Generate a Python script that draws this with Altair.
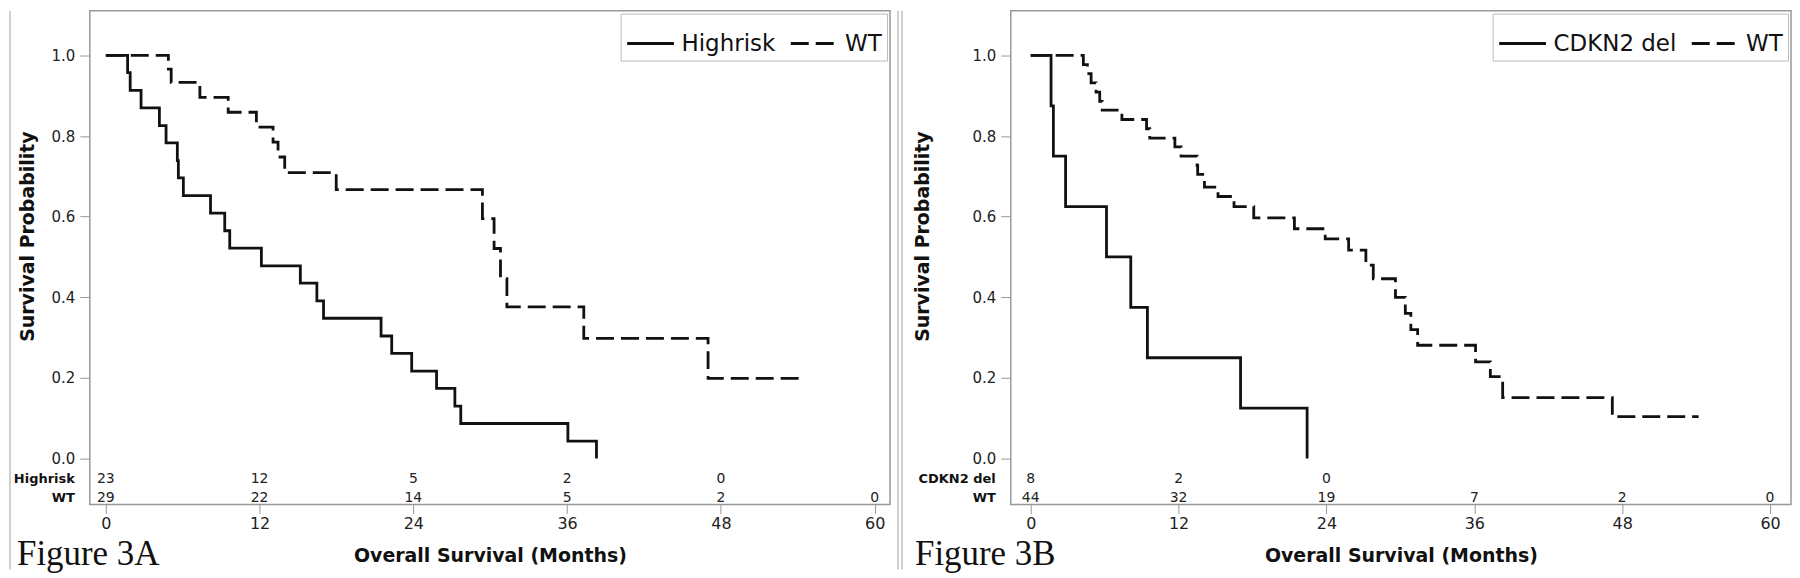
import altair as alt
import pandas as pd

FONT = "DejaVu Sans"
month_ticks = [0, 12, 24, 36, 48, 60]
prob_ticks = [0.0, 0.2, 0.4, 0.6, 0.8, 1.0]

# ---------------- Figure 3A ----------------
a_group = "Highrisk"
a_g_t = [0, 1.7, 1.9, 2.75, 4.18, 4.7, 5.58, 5.66, 6.05, 8.17, 9.28, 9.67, 12.14,
         15.18, 16.47, 16.99, 21.48, 22.31, 23.87, 25.81, 27.24, 27.7, 36.06, 38.29]
a_g_s = [1.0, 0.957, 0.913, 0.87, 0.826, 0.783, 0.739, 0.696, 0.652, 0.609, 0.565,
         0.522, 0.478, 0.435, 0.391, 0.348, 0.304, 0.261, 0.217, 0.174, 0.13, 0.087,
         0.043, 0.0]
a_w_t = [0, 4.88, 5.1, 7.34, 9.55, 11.75, 13.05, 13.44, 13.96, 17.98, 29.39, 30.3,
         30.8, 31.3, 37.3, 47.0, 54.55]
a_w_s = [1.0, 0.966, 0.933, 0.896, 0.859, 0.822, 0.785, 0.748, 0.709, 0.667, 0.595,
         0.521, 0.446, 0.376, 0.298, 0.199, 0.199]
a_risk_g = [23, 12, 5, 2, 0]
a_risk_w = [29, 22, 14, 5, 2, 0]

# ---------------- Figure 3B ----------------
b_group = "CDKN2 del"
b_g_t = [0, 1.65, 1.84, 2.83, 6.15, 8.12, 9.47, 17.03, 22.43]
b_g_s = [1.0, 0.875, 0.75, 0.625, 0.5, 0.375, 0.25, 0.125, 0.0]
b_w_t = [0, 4.27, 4.6, 4.9, 5.3, 5.6, 5.8, 7.4, 9.4, 9.66, 11.7, 12.2, 13.5, 13.55,
         14.1, 15.2, 16.5, 18.1, 21.4, 23.9, 25.8, 27.2, 27.8, 29.6, 30.4, 30.85,
         31.4, 36.1, 37.3, 38.3, 47.2, 54.2]
b_w_s = [1.0, 0.977, 0.955, 0.932, 0.909, 0.886, 0.864, 0.841, 0.818, 0.795, 0.773,
         0.75, 0.727, 0.705, 0.673, 0.65, 0.625, 0.597, 0.57, 0.545, 0.517, 0.48,
         0.446, 0.40, 0.36, 0.32, 0.281, 0.24, 0.203, 0.151, 0.104, 0.104]
b_risk_g = [8, 2, 0]
b_risk_w = [44, 32, 19, 7, 2, 0]

Y_DOMAIN = [-0.114, 1.111]
ROW1_Y = -0.05
ROW2_Y = -0.097


def one():
    return pd.DataFrame({"k": [0]})


def panel(group, g_t, g_s, w_t, w_s, risk_g, risk_w, width, xdom, title_x,
          fig_label, fig_x, left_rule_x, right_rule_x):
    curves = pd.DataFrame({
        "month": g_t + w_t,
        "surv": g_s + w_s,
        "group": [group] * len(g_t) + ["WT"] * len(w_t),
        "ord": list(range(len(g_t))) + list(range(len(w_t))),
    })
    risk = pd.DataFrame({
        "month": month_ticks[:len(risk_g)] + month_ticks[:len(risk_w)],
        "surv": [ROW1_Y] * len(risk_g) + [ROW2_Y] * len(risk_w),
        "n": [str(v) for v in risk_g] + [str(v) for v in risk_w],
    })
    rows = pd.DataFrame({"surv": [ROW1_Y, ROW2_Y], "lab": [group, "WT"]})

    x = alt.X("month:Q",
              scale=alt.Scale(domain=xdom, nice=False, zero=False),
              axis=alt.Axis(values=month_ticks, format="d", grid=False, domain=False,
                            tickSize=9, tickColor="#999", tickWidth=1,
                            labelFont=FONT, labelFontSize=16, labelColor="#222",
                            labelPadding=2,
                            title="Overall Survival (Months)", titleFont=FONT,
                            titleFontSize=19, titleFontWeight="bold", titleColor="#111",
                            titleY=57, titleBaseline="alphabetic"))
    y = alt.Y("surv:Q",
              scale=alt.Scale(domain=Y_DOMAIN, nice=False, zero=False),
              axis=alt.Axis(values=prob_ticks, format=".1f", grid=False, domain=False,
                            tickSize=10, tickColor="#999", tickWidth=1,
                            labelFont=FONT, labelFontSize=15, labelColor="#222",
                            labelPadding=5,
                            title="Survival Probability", titleFont=FONT,
                            titleFontSize=19, titleFontWeight="bold", titleColor="#111",
                            titleAngle=270, titleX=title_x, titleY=226,
                            titleBaseline="middle", titleAlign="center"))

    lines = alt.Chart(curves).mark_line(
        interpolate="step-after", color="#111", strokeWidth=2.8
    ).encode(
        x=x, y=y,
        strokeDash=alt.StrokeDash(
            "group:N",
            scale=alt.Scale(domain=[group, "WT"], range=[[1, 0], [18, 7]]),
            legend=alt.Legend(orient="top-right", direction="horizontal", title=None,
                              symbolType="stroke", symbolStrokeWidth=3,
                              symbolSize=2200, symbolStrokeColor="#111",
                              labelFont=FONT, labelFontSize=23, labelColor="#111",
                              labelOffset=6, columnPadding=8, padding=5, offset=3,
                              strokeColor="#bbb", fillColor="white", cornerRadius=0,
                              labelLimit=300),
        ),
        order="ord:Q",
    )

    risk_txt = alt.Chart(risk).mark_text(
        font=FONT, fontSize=14, color="#222", align="center", baseline="middle"
    ).encode(x=x, y=y, text="n:N")

    row_txt = alt.Chart(rows).mark_text(
        font=FONT, fontSize=13, fontWeight="bold", color="#111", align="right",
        baseline="middle"
    ).encode(x=alt.value(-15), y=y, text="lab:N")

    fig_txt = alt.Chart(one()).mark_text(
        font="Liberation Serif", fontSize=35, color="#111", align="left",
        baseline="alphabetic"
    ).encode(x=alt.value(fig_x), y=alt.value(556), text=alt.value(fig_label))

    layers = [lines, risk_txt, row_txt, fig_txt]
    if left_rule_x is not None:
        layers.insert(0, alt.Chart(one()).mark_rule(color="#cfcfcf", strokeWidth=2).encode(
            x=alt.value(left_rule_x), y=alt.value(0), y2=alt.value(560)))
    if right_rule_x is not None:
        layers.insert(0, alt.Chart(one()).mark_rule(color="#cfcfcf", strokeWidth=2).encode(
            x=alt.value(right_rule_x), y=alt.value(0), y2=alt.value(560)))

    return alt.layer(*layers).properties(width=width, height=495)


pA = panel(a_group, a_g_t, a_g_s, a_w_t, a_w_s, a_risk_g, a_risk_w,
           802, [-1.25, 61.2], -62, "Figure 3A", -73, -80, 810)
pB = panel(b_group, b_g_t, b_g_s, b_w_t, b_w_s, b_risk_g, b_risk_w,
           782, [-1.62, 61.7], -88, "Figure 3B", -96, -109, None)

chart = alt.hconcat(pA, pB, spacing=0).resolve_scale(
    strokeDash="independent", x="independent", y="independent"
).properties(
    padding={"left": 0, "top": 0, "right": 0, "bottom": 0},
    background="white",
).configure_view(stroke="#999", strokeWidth=1.5)

chart.save("out.html", embed_options={"renderer": "svg", "actions": False})
